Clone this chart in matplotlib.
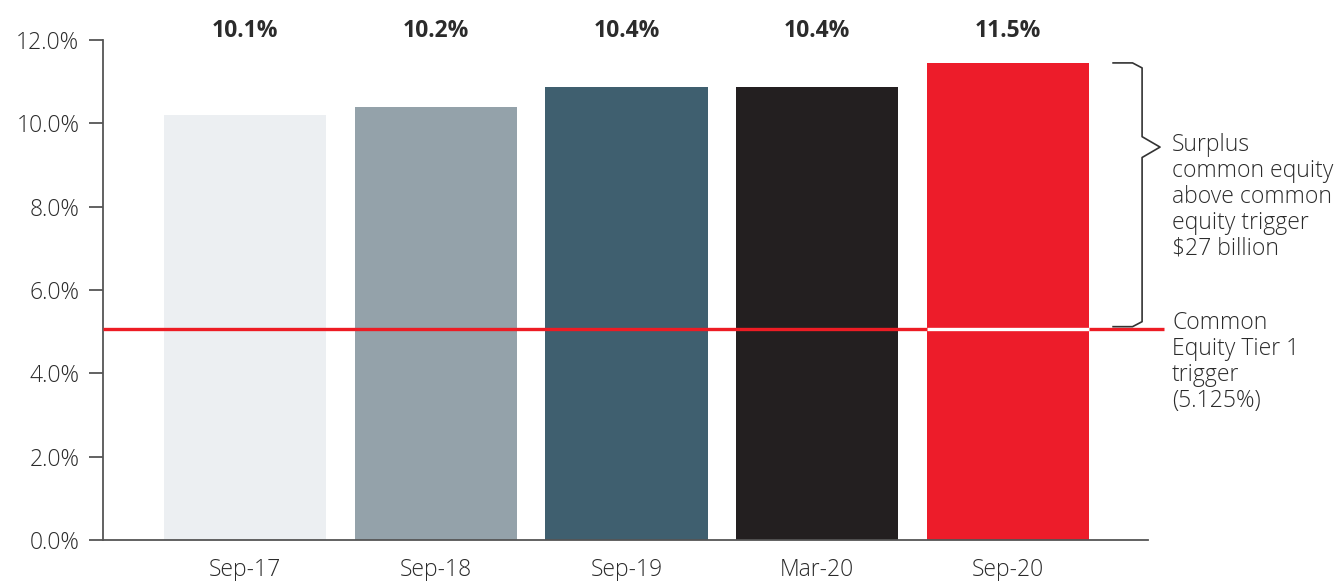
import matplotlib
matplotlib.use("Agg")
import matplotlib.pyplot as plt

# data
periods = ["Sep-17", "Sep-18", "Sep-19", "Mar-20", "Sep-20"]
cet1_ratio = [10.2, 10.39, 10.87, 10.87, 11.45]          # bar heights as drawn
ratio_labels = ["10.1%", "10.2%", "10.4%", "10.4%", "11.5%"]
bar_colors = ["#ECEFF2", "#94A2AA", "#3F5F6F", "#231F20", "#ED1C2A"]
trigger = 5.06
surplus_text = "Surplus\ncommon equity\nabove common\nequity trigger\n$27 billion"
trigger_text = "Common\nEquity Tier 1\ntrigger\n(5.125%)"

plt.rcParams['font.family'] = ['Open Sans', 'DejaVu Sans']
red = "#ED1C24"
txt = "#2B2B2B"
fs = 16.5

fig = plt.figure(figsize=(13.42, 5.81), dpi=100)
ax = fig.add_axes([103 / 1342, 41 / 581, 1045 / 1342, 500 / 581])

x = list(range(len(periods)))
ax.bar(x, cet1_ratio, width=0.85, color=bar_colors, zorder=2)

ax.set_xlim(-0.744, 4.734)
ax.set_ylim(0, 12)
ax.set_yticks([0, 2, 4, 6, 8, 10, 12])
ax.set_yticklabels([f"{v:.1f}%" for v in [0, 2, 4, 6, 8, 10, 12]],
                   fontweight="light")
ax.set_xticks(x)
ax.set_xticklabels(periods, fontweight="light")

for s in ["top", "right"]:
    ax.spines[s].set_visible(False)
for s in ["left", "bottom"]:
    ax.spines[s].set_color("#555555")
    ax.spines[s].set_linewidth(1.3)
ax.tick_params(axis="y", length=10, width=1.3, color="#555555", pad=7,
               labelsize=fs, labelcolor=txt)
ax.tick_params(axis="x", length=0, pad=13, labelsize=fs, labelcolor=txt)

# value labels above the plot
for xi, lab in zip(x, ratio_labels):
    ax.text(xi, 12.22, lab, ha="center", va="center", fontsize=fs,
            fontweight="bold", color=txt, clip_on=False)

# trigger line, white where it crosses the last bar
ax.plot([-0.744, 4.82], [trigger, trigger], color=red, lw=2.4, zorder=3,
        clip_on=False, solid_capstyle="butt")
ax.plot([4 - 0.425, 4 + 0.425], [trigger, trigger], color="white", lw=2.4,
        zorder=4, solid_capstyle="butt")

# bracket from top of last bar down to trigger
top = cet1_ratio[-1]
bot = trigger + 0.06
mid = 9.43
xa, xb, xp, c = 4.551, 4.703, 4.797, 0.05
bx = [xa, xb - c, xb, xb, xp, xb, xb, xb - c, xa]
by = [top, top, top - 0.12, mid + 0.25, mid, mid - 0.25, bot + 0.12, bot, bot]
ax.plot(bx, by, color="#333333", lw=1.2, clip_on=False, zorder=3)

ax.text(4.86, 9.76, surplus_text, ha="left", va="top", fontsize=fs,
        fontweight="light", color=txt, linespacing=1.1, clip_on=False)
ax.text(4.86, 5.49, trigger_text, ha="left", va="top", fontsize=fs,
        fontweight="light", color=txt, linespacing=1.1, clip_on=False)

fig.savefig("out.png", dpi=100)
